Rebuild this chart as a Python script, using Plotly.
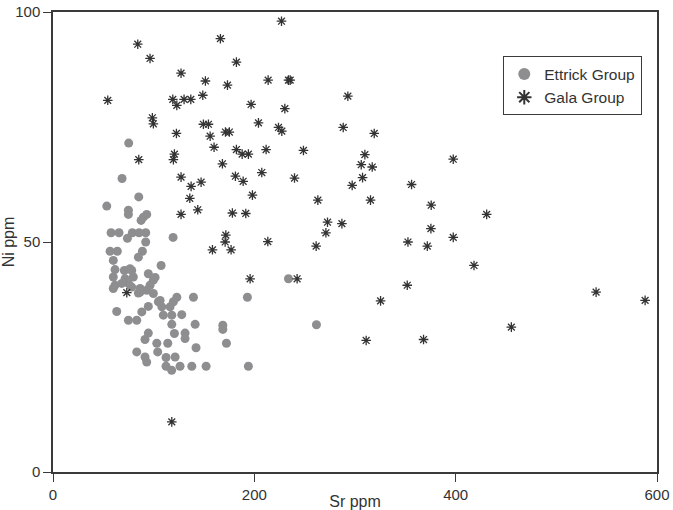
import plotly.graph_objects as go

# Ettrick Group (Sr ppm, Ni ppm)
ettrick_sr = [75.2, 68.6, 85.2, 53.4, 74.9, 74.9, 93.1, 89.8, 87.5, 57.7, 65.6, 73.9, 78.8, 85.5,
              92.1, 92.1, 119.3, 56.7, 63.9, 88.8, 84.8, 107.4, 59.9, 61.6, 59.9, 70.9, 78.2, 79.8,
              71.6, 74.9, 61.6, 94.7, 99.7, 96.4, 86.5, 59.9, 68.3, 78.2, 84.8, 93.1, 99.7, 104.7,
              109.6, 118.0, 123.0, 119.6, 116.3, 63.3, 88.2, 94.7, 74.9, 83.2, 127.9, 118.0, 141.2,
              94.7, 91.4, 103.1, 114.0, 120.6, 131.2, 131.2, 142.1, 83.2, 91.4, 93.1, 104.0, 112.3,
              121.3, 112.3, 117.9, 126.2, 137.9, 152.1, 168.7, 168.7, 172.3, 194.1, 233.9, 193.1,
              261.7, 139.5, 106.4, 101.4, 108.1, 86.5, 76.5]
ettrick_ni = [71.5, 63.8, 59.8, 57.8, 56.9, 56.0, 56.0, 55.4, 54.7, 52.0, 52.0, 50.8, 52.0, 52.0,
              52.0, 50.0, 51.0, 48.0, 48.0, 48.0, 46.7, 44.9, 46.0, 44.0, 42.4, 43.8, 43.8, 42.4,
              42.0, 41.0, 40.6, 43.1, 41.7, 40.6, 39.9, 39.9, 41.0, 40.2, 38.9, 39.5, 38.8, 37.0,
              34.1, 34.1, 38.0, 37.0, 35.9, 34.9, 34.8, 36.0, 33.0, 33.0, 34.2, 32.1, 32.1,
              30.2, 28.8, 28.0, 28.0, 30.1, 30.2, 29.0, 27.0, 26.1, 25.0, 23.9, 26.1, 24.9,
              25.0, 23.0, 22.1, 23.0, 23.0, 23.0, 31.9, 31.0, 28.0, 23.0, 42.0, 38.0,
              32.0, 38.0, 37.3, 42.3, 35.9, 39.1, 44.2]

# Gala Group (Sr ppm, Ni ppm)
gala_sr = [84.2, 96.4, 166.3, 182.2, 127.2, 151.4, 173.3, 213.7, 54.4, 119.0, 123.0, 130.2, 136.9,
           148.8, 196.8, 98.7, 99.7, 122.6, 149.4, 154.4, 156.1, 171.3, 175.2, 204.1, 85.2, 120.6,
           119.6, 160.0, 182.2, 187.9, 194.1, 211.7, 168.3, 227.0, 233.9, 235.6, 292.9, 230.3,
           224.0, 227.3, 288.3, 319.1, 248.8, 309.8, 306.2, 317.1, 397.6, 127.2, 137.2, 147.1,
           135.9, 127.2, 143.8, 181.2, 188.9, 207.4, 198.1, 178.2, 191.5, 171.7, 171.0, 158.4,
           176.9, 213.4, 195.8, 73.3, 239.9, 307.5, 297.2, 356.2, 263.1, 315.4, 375.7, 272.7,
           287.0, 271.1, 375.4, 397.6, 261.4, 352.6, 371.8, 418.2, 242.5, 351.9, 325.4, 430.8,
           539.5, 588.2, 455.3, 311.1, 368.1, 118.0]
gala_ni = [93.0, 89.9, 94.2, 89.1, 86.7, 85.0, 84.1, 85.2, 80.8, 81.0, 79.7, 81.0, 81.0,
           81.9, 79.9, 77.0, 75.7, 73.6, 75.6, 75.6, 73.0, 73.9, 73.9, 75.9, 67.9, 69.1,
           67.9, 70.6, 70.1, 69.1, 69.1, 70.1, 67.0, 98.0, 85.2, 85.2, 81.7, 79.0,
           74.9, 74.1, 74.9, 73.6, 69.9, 69.0, 66.8, 66.3, 68.0, 64.1, 62.1, 63.0,
           59.5, 56.0, 57.0, 64.3, 63.2, 65.1, 60.2, 56.3, 56.2, 51.5, 50.0, 48.3,
           48.3, 50.1, 42.0, 39.0, 63.9, 64.0, 62.3, 62.5, 59.1, 59.1, 58.0, 54.3,
           54.0, 52.0, 52.9, 51.0, 49.1, 50.0, 49.1, 44.9, 42.0, 40.6, 37.2, 56.0,
           39.1, 37.3, 31.5, 28.6, 28.8, 10.9]

x_ticks = [0, 200, 400, 600]
y_ticks = [0, 50, 100]

fig = go.Figure()
fig.add_trace(go.Scatter(
    x=ettrick_sr, y=ettrick_ni, mode="markers", name="Ettrick Group",
    marker=dict(symbol="circle", size=9, color="#8e8e90", line=dict(width=0)),
))
fig.add_trace(go.Scatter(
    x=gala_sr, y=gala_ni, mode="markers", name="Gala Group",
    marker=dict(symbol="asterisk-open", size=8, color="#333333",
                line=dict(width=1.3, color="#333333")),
))

axis_common = dict(
    showgrid=False, zeroline=False, showline=True, linecolor="#3a3a3a", linewidth=1.5,
    mirror=True, ticks="outside", ticklen=8, tickwidth=1.3, tickcolor="#3a3a3a",
    automargin=False,
    tickfont=dict(family="Liberation Sans, Arial, sans-serif", size=15, color="#333333"),
)

fig.update_layout(
    width=673, height=510,
    margin=dict(l=53, r=16, t=12, b=38),
    paper_bgcolor="white", plot_bgcolor="white",
    font=dict(family="Liberation Sans, Arial, sans-serif", color="#333333"),
    xaxis=dict(range=[0, 600], tickvals=x_ticks,
               title=dict(text="Sr ppm", font=dict(size=16, color="#333333"), standoff=0),
               **axis_common),
    yaxis=dict(range=[0, 100], tickvals=y_ticks,
               title=dict(text="Ni ppm", font=dict(size=16, color="#333333"), standoff=0),
               **axis_common),
    showlegend=True,
    legend=dict(x=0.745, y=0.904, xanchor="left", yanchor="top",
                bordercolor="#3a3a3a", borderwidth=1.3, bgcolor="white",
                font=dict(size=15.5, color="#333333"), itemsizing="constant",
                tracegroupgap=0),
)

fig.write_html("out.html")
